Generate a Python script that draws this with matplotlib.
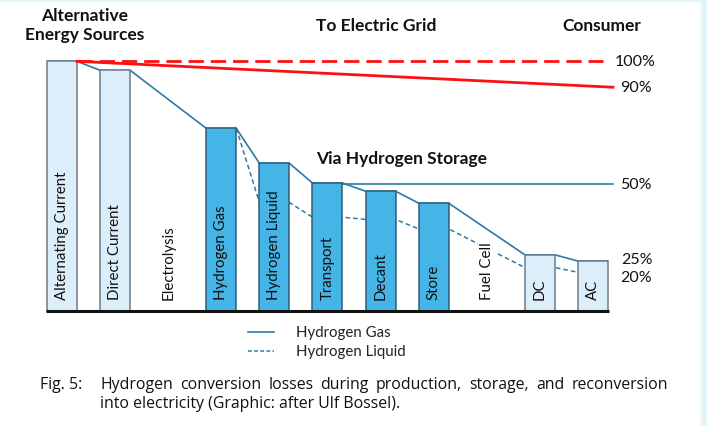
import matplotlib
matplotlib.use("Agg")
import matplotlib.pyplot as plt
from matplotlib.patches import Rectangle
from matplotlib import font_manager

# ---------------- data ----------------
categories = ["Alternating Current", "Direct Current", "Electrolysis", "Hydrogen Gas",
              "Hydrogen Liquid", "Transport", "Decant", "Store", "Fuel Cell", "DC", "AC"]
has_bar = [True, True, False, True, True, True, True, True, False, True, True]
bar_style = ["light", "light", None, "dark", "dark", "dark", "dark", "dark", None, "light", "light"]
gas_values = [100, 96.4, None, 73.1, 59.1, 51.2, 47.9, 43.1, None, 22.4, 19.9]
liquid_values = [None, None, None, 73.1, 43.4, 37.5, 36.6, 32.8, None, 17.3, 15.4]
grid_start = 100
grid_end = 89.6
storage_ref = 50.8
right_labels = ["100%", "90%", "50%", "25%", "20%"]
right_label_levels = [100, 89.6, 50.8, 20.7, 13.6]
caption_line1 = ["Hydrogen", "conversion", "losses", "during", "production,",
                 "storage,", "and", "reconversion"]
caption_line2 = "into electricity (Graphic: after Ulf Bossel)."

# ---------------- fonts ----------------
avail = {f.name for f in font_manager.fontManager.ttflist}
def pick(*names):
    for n in names:
        if n in avail:
            return n
    return "DejaVu Sans"
FONT = pick("Lato", "Open Sans", "Noto Sans")
CAPFONT = pick("Liberation Sans Narrow", "Open Sans", "Noto Sans")

W, H = 707, 427
fig = plt.figure(figsize=(W / 100, H / 100), dpi=100)
ax = fig.add_axes([0, 0, 1, 1])
# pixel mapping: x_px = 62 + 53.1*i ; y_px = 311.7 - 2.494*v
sx, x0 = 53.1, 62.0
sy, y0 = 2.494, 311.7
ax.set_xlim(-x0 / sx, (W - x0) / sx)
ax.set_ylim((y0 - H) / sy, y0 / sy)
ax.axis("off")

def px(xp):
    return (xp - x0) / sx

def py(yp):
    return (y0 - yp) / sy

bw = 30 / sx
line_col = "#2c7aa6"
light_fill, light_edge = "#ddeefb", "#6d7c88"
dark_fill, dark_edge = "#45b4e7", "#2f5d78"

# background strips
fig.patches.append(Rectangle((701 / W, 0), 6 / W, 1, transform=fig.transFigure,
                             color="#e3f6fb", zorder=0))
fig.patches.append(Rectangle((0, 1 - 2 / H), 1, 2 / H, transform=fig.transFigure,
                             color="#e3f6fb", zorder=0))

# bars
for i, (c, hb, st, v) in enumerate(zip(categories, has_bar, bar_style, gas_values)):
    if hb:
        fc, ec = (light_fill, light_edge) if st == "light" else (dark_fill, dark_edge)
        ax.bar(i, v, width=bw, color=fc, edgecolor=ec, linewidth=1.1, zorder=3)

# bar labels
for i, c in enumerate(categories):
    kw = {}
    if c == "Fuel Cell":
        kw["bbox"] = dict(facecolor="white", edgecolor="none", pad=1.5)
    ax.text(i, py(300.5), c, rotation=90, ha="center", va="bottom",
            fontsize=10.8, family=FONT, color="#111111", zorder=4, **kw)

# hydrogen gas line (solid)
gx, gy = [], []
for i, v in enumerate(gas_values):
    if v is not None:
        gx += [i - bw / 2, i + bw / 2]
        gy += [v, v]
ax.plot(gx, gy, color=line_col, lw=1.2, zorder=2, solid_capstyle="butt")

# hydrogen liquid line (dashed)
lx, ly = [], []
for i, v in enumerate(liquid_values):
    if v is not None:
        if i == 3:
            lx += [i + bw / 2]
            ly += [v]
        else:
            lx += [i - bw / 2, i + bw / 2]
            ly += [v, v]
ax.plot(lx, ly, color=line_col, lw=1.1, ls=(0, (3, 2)), zorder=2)

# 50% reference line
ax.plot([5 + bw / 2, px(613)], [storage_ref, storage_ref], color=line_col, lw=1.2, zorder=2)

# red grid lines
ax.plot([0 + bw / 2, px(603)], [grid_start, grid_start], color="#ff1010", lw=2,
        ls=(0, (5.5, 2.5)), zorder=5)
ax.plot([0 + bw / 2, px(613)], [grid_start, grid_end], color="#ff1010", lw=2, zorder=5)

# bottom baseline
ax.plot([px(46), px(609)], [0, 0], color="#111111", lw=2.2, zorder=6,
        solid_capstyle="butt")

# right labels
label_x = [615, 620, 620, 621, 620]
for t, v, xp in zip(right_labels, right_label_levels, label_x):
    ax.text(px(xp), v, t, ha="left", va="center", fontsize=11.5, family=FONT,
            color="#111111")

# headers
hk = dict(fontsize=12.5, family=FONT, fontweight="bold", color="#111111",
          ha="center", va="center")
ax.text(px(84.5), py(16), "Alternative", **hk)
ax.text(px(84.5), py(35), "Energy Sources", **hk)
ax.text(px(376), py(26), "To Electric Grid", **hk)
ax.text(px(602), py(26), "Consumer", **hk)
ax.text(px(401.5), py(159), "Via Hydrogen Storage", **hk)

# legend
ax.plot([px(248), px(274)], [py(332.7), py(332.7)], color=line_col, lw=1.2)
ax.plot([px(248), px(274)], [py(352.3), py(352.3)], color=line_col, lw=1.1,
        ls=(0, (2.5, 1.5)))
ax.text(px(296.5), py(332.7), "Hydrogen Gas", ha="left", va="center",
        fontsize=10.8, family=FONT, color="#222222")
ax.text(px(296.5), py(352.3), "Hydrogen Liquid", ha="left", va="center",
        fontsize=10.8, family=FONT, color="#222222")

# caption (justified first line)
ck = dict(fontsize=11.4, family=CAPFONT, color="#111111", va="center", ha="left")
ax.text(px(40), py(385), "Fig. 5:", **ck)
renderer = fig.canvas.get_renderer()
xl, xr = 100.0, 668.0
words = [ax.text(0, py(385), w, **ck) for w in caption_line1]
widths = [w.get_window_extent(renderer).width for w in words]
gap = (xr - xl - sum(widths)) / (len(words) - 1)
cur = xl
for w, wd in zip(words, widths):
    w.set_x(px(cur))
    cur += wd + gap
ax.text(px(100), py(404), caption_line2, **ck)

fig.savefig("out.png", dpi=100)
